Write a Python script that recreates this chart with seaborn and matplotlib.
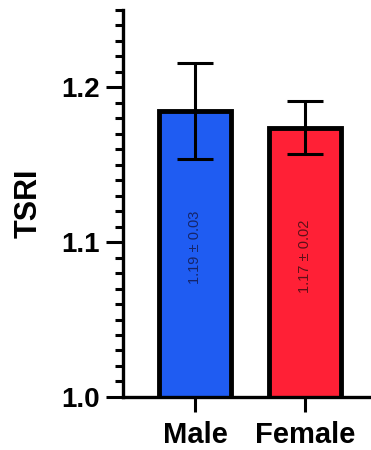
import numpy as np
import pandas as pd
import seaborn as sns
import matplotlib.pyplot as plt
from matplotlib.ticker import MultipleLocator

# values
groups = ["Male", "Female"]
means = [1.185, 1.174]
errors = [0.031, 0.017]
labels = ["1.19 ± 0.03", "1.17 ± 0.02"]
bar_colors = ["#1f5cf2", "#ff2036"]
text_colors = ["#15256a", "#5e1018"]

sns.set_theme(style="ticks")
plt.rcParams['font.family'] = ['Liberation Sans', 'DejaVu Sans']
plt.rcParams['text.color'] = 'black'
plt.rcParams['xtick.color'] = 'black'
plt.rcParams['ytick.color'] = 'black'
plt.rcParams['axes.labelcolor'] = 'black'

df = pd.DataFrame({"group": groups, "TSRI": means})

fig = plt.figure(figsize=(3.71, 4.5), dpi=100)
ax = fig.add_axes([0.3315, 0.118, 0.6685, 0.86])

sns.barplot(data=df, x="group", y="TSRI", hue="group", palette=bar_colors,
            saturation=1, width=0.65, edgecolor="black", linewidth=3.5,
            legend=False, errorbar=None, ax=ax, zorder=2)

x = np.arange(len(groups))
ax.errorbar(x, means, yerr=errors, fmt="none", ecolor="black",
            elinewidth=2.2, capsize=13, capthick=2.2, zorder=3)

for xi, m, lab, c in zip(x, means, labels, text_colors):
    ax.text(xi, (1.0 + m) / 2 + 0.004, lab, rotation=90, ha="center", va="center",
            fontsize=10.5, color=c, zorder=4)

ax.set_ylim(1.0, 1.25)
ax.set_xlim(-0.655, 1.6)
ax.yaxis.set_major_locator(MultipleLocator(0.1))
ax.yaxis.set_minor_locator(MultipleLocator(0.01))
ax.set_yticks([1.0, 1.1, 1.2])
ax.set_yticklabels(["1.0", "1.1", "1.2"], fontsize=20, fontweight="bold")
ax.set_xticks(x)
ax.set_xticklabels(groups, fontsize=21, fontweight="bold")

ax.set_xlabel("")
ax.set_ylabel("TSRI", fontsize=22, fontweight="bold", labelpad=12)

for s in ["top", "right"]:
    ax.spines[s].set_visible(False)
for s in ["left", "bottom"]:
    ax.spines[s].set_linewidth(2.4)
    ax.spines[s].set_color("black")

ax.tick_params(axis="y", which="major", length=12, width=2.2, pad=5)
ax.tick_params(axis="y", which="minor", length=6, width=2.2)
ax.tick_params(axis="x", which="major", length=11, width=2.2, pad=6)

fig.savefig("out.png", dpi=100)
